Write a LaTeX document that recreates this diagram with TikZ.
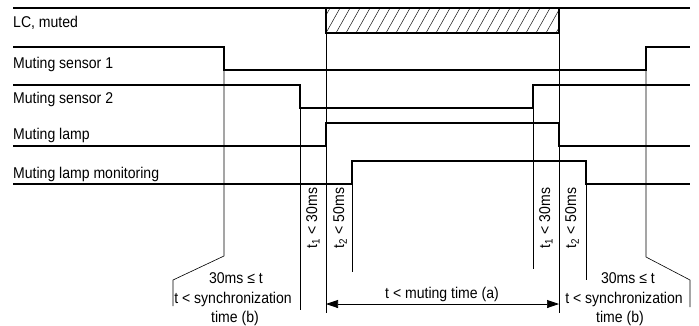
\documentclass[tikz,border=0pt]{standalone}
\usepackage{fontspec}
\setmainfont{Liberation Sans}[FakeStretch=0.9]
\usetikzlibrary{arrows.meta}
\begin{document}
\begin{tikzpicture}[x=1pt,y=-1pt,
  sig/.style={line width=1.5pt, line join=miter},
  guide/.style={line width=0.6pt},
  hatch/.style={line width=0.45pt},
  lbl/.style={font=\fontsize{15.6}{18}\selectfont, inner sep=0pt},
  tip/.style={{Triangle[length=12pt,width=8pt]}-{Triangle[length=12pt,width=8pt]}}
]
\useasboundingbox (0,0) rectangle (699,325);
% LC muted
\begin{scope}
  \clip (326,8) rectangle (559,33);
  \foreach \x in {306,316,...,566} \draw[hatch] (\x,33) -- (\x+14,8);
\end{scope}
\draw[sig] (13,8) -- (690,8);
\draw[sig] (326,8) rectangle (559,33);
% sensor 1
\draw[sig] (13,47) -- (224,47) -- (224,70) -- (646,70) -- (646,47) -- (690,47);
% sensor 2
\draw[sig] (13,85) -- (300,85) -- (300,108) -- (533,108) -- (533,85) -- (690,85);
% lamp
\draw[sig] (13,146) -- (326,146) -- (326,123) -- (559,123) -- (559,146) -- (690,146);
% monitoring
\draw[sig] (13,184) -- (352,184) -- (352,161) -- (586,161) -- (586,184) -- (690,184);
% guide lines
\draw[guide] (224,70) -- (224,256) -- (173,280) -- (173,306);
\draw[guide] (300,108) -- (300,310);
\draw[guide] (326,33) -- (326,313);
\draw[guide] (352,184) -- (352,272);
\draw[guide] (533,108) -- (533,269);
\draw[guide] (559,33) -- (559,313);
\draw[guide] (586,184) -- (586,280);
\draw[guide] (646,70) -- (646,257) -- (690,280) -- (690,307);
% muting time arrow
\coordinate (mtL) at (326,304);
\coordinate (mtR) at (559,304);
\draw[guide, line width=0.7pt, tip] (mtL) -- (mtR);
\node[lbl, anchor=base] (mt) at (442,298) {t < muting time (a)};
% labels
\node[lbl, anchor=base west] (l1) at (13,27) {LC, muted};
\node[lbl, anchor=base west] (l2) at (13,68) {Muting sensor 1};
\node[lbl, anchor=base west] (l3) at (13,103) {Muting sensor 2};
\node[lbl, anchor=base west] (l4) at (13,139.5) {Muting lamp};
\node[lbl, anchor=base west] (l5) at (13,178) {Muting lamp monitoring};
% rotated
\node[lbl, rotate=90] (r1) at (313,218) {t\textsubscript{1} < 30ms};
\node[lbl, rotate=90] (r2) at (340,218) {t\textsubscript{2} < 50ms};
\node[lbl, rotate=90] (r3) at (546,218) {t\textsubscript{1} < 30ms};
\node[lbl, rotate=90] (r4) at (572,218) {t\textsubscript{2} < 50ms};
% sync blocks
\node[lbl, anchor=base] (a1) at (236,283) {30ms ≤ t};
\node[lbl, anchor=base] (a2) at (233,303) {t < synchronization};
\node[lbl, anchor=base] (a3) at (235,322) {time (b)};
\node[lbl, anchor=base] (b1) at (628,283) {30ms ≤ t};
\node[lbl, anchor=base] (b2) at (624,303) {t < synchronization};
\node[lbl, anchor=base] (b3) at (620,322) {time (b)};
\end{tikzpicture}
\end{document}
